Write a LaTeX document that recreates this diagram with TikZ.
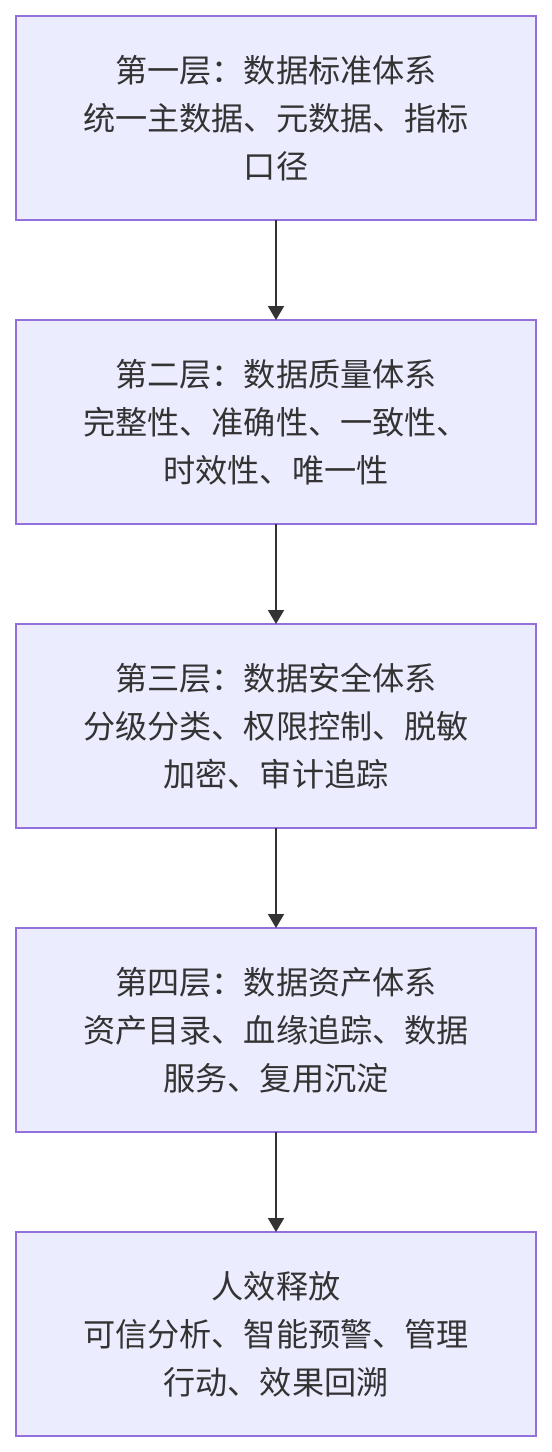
\documentclass[tikz,border=0pt]{standalone}
\usepackage{fontspec}
\setmainfont{Noto Sans CJK SC}
\usepackage{tikz}
\usetikzlibrary{calc}
\usetikzlibrary{arrows.meta}
\usetikzlibrary{positioning}
\usepackage{color}
\definecolor{lavender}{RGB}{236, 236, 255}
\definecolor{amethyst}{RGB}{147, 112, 219}
\definecolor{charcoal}{RGB}{51, 51, 51}
\tikzset{
    layer/.style={draw=amethyst, fill=lavender, line width=1.14pt, minimum width=10.40cm, minimum height=4.08cm,
                  inner sep=0pt, outer sep=0pt, align=center, text=charcoal, font=\fontsize{18.3}{27.3}\selectfont},
    flow/.style={draw=charcoal, line width=1.14pt, -{Triangle[width=0.32cm, length=0.28cm]}}
}
\begin{document}
\begin{tikzpicture}[node distance=2.00cm]
            % Frame to ensure alignment:
            \useasboundingbox                                             (0.00, 0.00) rectangle (11.04, -29.04);
            \node[layer] (standard) at (5.52, -2.36) {第一层：数据标准体系\\统一主数据、元数据、指标\\口径};
            \node[layer, below=of standard] (quality)  {第二层：数据质量体系\\完整性、准确性、一致性、\\时效性、唯一性};
            \node[layer, below=of quality]  (security) {第三层：数据安全体系\\分级分类、权限控制、脱敏\\加密、审计追踪};
            \node[layer, below=of security] (asset)    {第四层：数据资产体系\\资产目录、血缘追踪、数据\\服务、复用沉淀};
            \node[layer, below=of asset]    (release)  {人效释放\\可信分析、智能预警、管理\\行动、效果回溯};
            \draw[flow] (standard) -- (quality);
            \draw[flow] (quality)  -- (security);
            \draw[flow] (security) -- (asset);
            \draw[flow] (asset)    -- (release);
        \end{tikzpicture}
\end{document}
